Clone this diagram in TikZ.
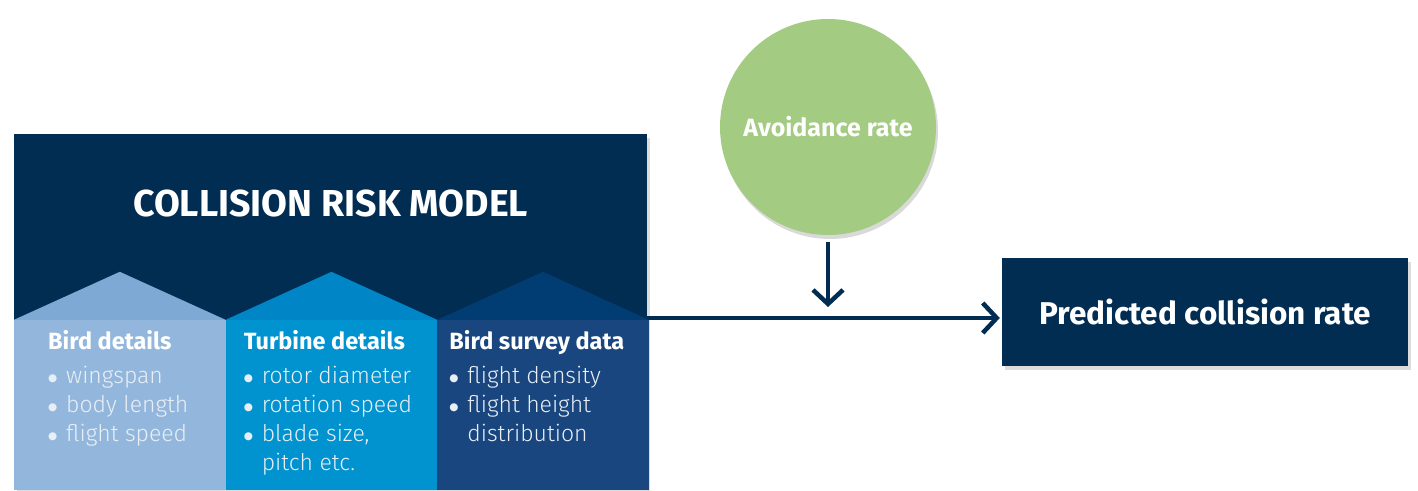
\documentclass[tikz,border=0pt]{standalone}
\usepackage{fontspec}
\setmainfont{Fira Sans}
\newfontfamily\lightfont{Fira Sans Light}
\newfontfamily\symfont{DejaVu Sans}
\usetikzlibrary{arrows.meta, positioning, calc, shadows}

\definecolor{navy}{HTML}{022D52}
\definecolor{birdroof}{HTML}{7DA9D4}
\definecolor{birdbody}{HTML}{93B7DC}
\definecolor{turbroof}{HTML}{0085C6}
\definecolor{turbbody}{HTML}{0093CF}
\definecolor{survroof}{HTML}{013C73}
\definecolor{survbody}{HTML}{19467E}
\definecolor{avgreen}{HTML}{A3CB82}
\definecolor{listtext}{HTML}{E8EEF5}

% bullet item for the column lists
\newcommand{\itm}[1]{\makebox[18pt][l]{\raisebox{2.2pt}{\symfont\fontsize{10.5}{10.5}\selectfont ●}}#1}

\begin{document}
\begin{tikzpicture}[
  x=1pt, y=1pt,
  flow/.style={-{Straight Barb[length=14pt,width=30pt]}, draw=navy, line width=4.5pt},
  softshadow/.style={drop shadow={opacity=0.28, shadow xshift=3pt, shadow yshift=-4pt}},
  crmbox/.style={rectangle, fill=navy, softshadow, inner sep=0pt,
                 minimum width=633pt, minimum height=355pt},
  colbody/.style={rectangle, fill=#1, draw=#1, line width=0.6pt, inner sep=0pt,
                  minimum width=211pt, minimum height=169pt},
  head/.style={text=white, font=\fontsize{23.5}{28}\selectfont\bfseries, inner sep=0pt},
  items/.style={text=listtext, align=left, inner sep=0pt,
                font=\lightfont\fontsize{23}{29}\selectfont},
  predbox/.style={rectangle, fill=navy, softshadow, text=white,
                  minimum width=406pt, minimum height=108pt,
                  font=\fontsize{31.5}{36}\selectfont\bfseries},
  ratecircle/.style={circle, fill=avgreen, text=white, minimum size=216pt,
                     drop shadow={opacity=0.3, shadow xshift=2pt, shadow yshift=-4pt},
                     font=\fontsize{25}{30}\selectfont\bfseries},
]
\useasboundingbox (0,0) rectangle (1418,490);

% Collision risk model
\node[crmbox, anchor=north west] (crm) at (14,356) {};
\node[text=white, font=\fontsize{37.5}{44}\selectfont\bfseries] (title)
  at ($(crm.north)+(0,-70)$) {COLLISION RISK MODEL};

% Input columns
\node[colbody=birdbody, anchor=south west] (bird) at (crm.south west) {};
\node[colbody=turbbody, right=0pt of bird] (turb) {};
\node[colbody=survbody, right=0pt of turb] (surv) {};

% Roofs
\fill[birdroof] (bird.north west) -- ($(bird.north)+(0,48)$) -- (bird.north east) -- cycle;
\fill[turbroof] (turb.north west) -- ($(turb.north)+(0,48)$) -- (turb.north east) -- cycle;
\fill[survroof] (surv.north west) -- ($(surv.north)+(0,48)$) -- (surv.north east) -- cycle;

% Column texts
\node[head, anchor=base west] (birdhead) at ($(bird.north west)+(34,-30)$) {Bird details};
\node[items, anchor=north west] (birdlist) at ($(birdhead.base west)+(0,-16)$)
  {\itm{wingspan}\\ \itm{body length}\\ \itm{flight speed}};

\node[head, anchor=base west] (turbhead) at ($(turb.north west)+(18,-30)$) {Turbine details};
\node[items, anchor=north west] (turblist) at ($(turbhead.base west)+(0,-16)$)
  {\itm{rotor diameter}\\ \itm{rotation speed}\\ \itm{blade size,}\\ \hspace*{18pt}pitch etc.};

\node[head, anchor=base west] (survhead) at ($(surv.north west)+(12,-30)$) {Bird survey data};
\node[items, anchor=north west] (survlist) at ($(survhead.base west)+(0,-16)$)
  {\itm{flight density}\\ \itm{flight height}\\ \hspace*{18pt}distribution};

% Avoidance rate and output
\node[ratecircle] (avoid) at (828,363) {Avoidance rate};
\node[predbox] (pred) at (1205,178) {Predicted collision rate};
\coordinate (join) at (avoid.south |- 0,172);

% Connectors
\draw[flow] ([yshift=-7pt]avoid.south) -- ([yshift=11pt]join);
\draw[flow] (crm.east |- join) -- ([xshift=-2pt]pred.west |- join);

\end{tikzpicture}
\end{document}
